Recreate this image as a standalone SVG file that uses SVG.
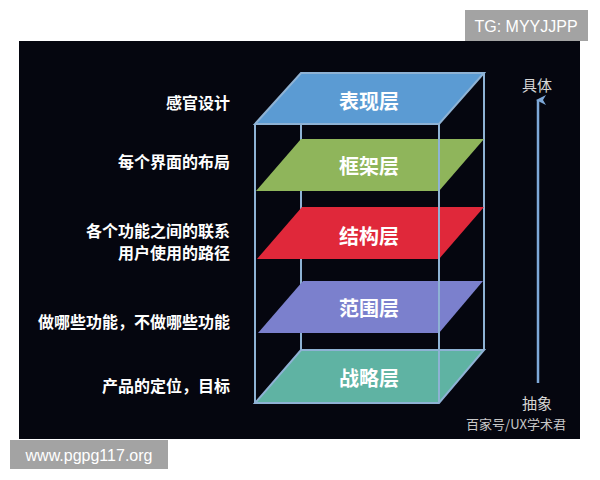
<svg xmlns="http://www.w3.org/2000/svg" width="600" height="480" viewBox="0 0 600 480">
  <defs>
    <style>
      .frame { stroke: #8eb2d4; stroke-width: 2; fill: none; }
      .layer-label { font-family: "Noto Sans CJK SC", "Noto Sans", sans-serif; font-size: 20px; font-weight: 700; fill: #ffffff; text-anchor: middle; dominant-baseline: central; }
      .side-label { font-family: "Noto Sans CJK SC", "Noto Sans", sans-serif; font-size: 16px; font-weight: 700; fill: #ffffff; text-anchor: end; dominant-baseline: central; }
      .axis-label { font-family: "Noto Sans CJK SC", "Noto Sans", sans-serif; font-size: 15px; fill: #d6d6d6; text-anchor: middle; dominant-baseline: central; }
      .credit { font-family: "Noto Sans CJK SC", "Noto Sans", sans-serif; font-size: 13px; fill: #c8c8c8; text-anchor: middle; dominant-baseline: central; }
      .wm-box { fill: #a3a3a3; }
      .wm-text { font-family: "Liberation Sans", Arial, sans-serif; font-size: 16px; fill: #ffffff; text-anchor: middle; dominant-baseline: central; }
    </style>
    <marker id="arrowhead" viewBox="0 0 10 10" refX="5" refY="2" markerWidth="10" markerHeight="10" markerUnits="userSpaceOnUse" orient="auto-start-reverse">
      <path d="M0,10 L5,0 L10,10 L5,7 Z" fill="#7ea8d8"/>
    </marker>
  </defs>

  <rect x="0" y="0" width="600" height="480" fill="#ffffff"/>
  <rect x="19" y="41" width="561" height="398" fill="#05060f"/>

  <!-- back frame lines (behind layers) -->
  <g id="frame-back">
    <line class="frame" x1="301" y1="73" x2="301" y2="350"/>
    <line class="frame" x1="484" y1="73" x2="484" y2="350"/>
  </g>

  <g id="layer-surface">
    <polygon points="301,73 484,73 439,124 255,124" fill="#5b9bd3" stroke="#8eb2d4" stroke-width="2"/>
    <text class="layer-label" x="369" y="100">表现层</text>
  </g>
  <g id="layer-skeleton">
    <polygon points="301,139 484,139 439,191 256,191" fill="#8fb55b"/>
    <text class="layer-label" x="369" y="165">框架层</text>
  </g>
  <g id="layer-structure">
    <polygon points="302,207 484,207 439,259 257,259" fill="#e0283a"/>
    <text class="layer-label" x="369" y="235">结构层</text>
  </g>
  <g id="layer-scope">
    <polygon points="303,281 483,281 439,333 258,333" fill="#7b80cd"/>
    <text class="layer-label" x="369" y="307">范围层</text>
  </g>
  <g id="layer-strategy">
    <polygon points="301,350 484,350 439,403 255,403" fill="#5fb3a3" stroke="#8eb2d4" stroke-width="2"/>
    <text class="layer-label" x="369" y="377">战略层</text>
  </g>

  <!-- front frame lines (over layers) -->
  <g id="frame-front">
    <line class="frame" x1="255" y1="124" x2="255" y2="403"/>
    <line class="frame" x1="439" y1="124" x2="439" y2="403"/>
  </g>

  <g id="label-surface"><text class="side-label" x="230" y="102">感官设计</text></g>
  <g id="label-skeleton"><text class="side-label" x="230" y="161">每个界面的布局</text></g>
  <g id="label-structure">
    <text class="side-label" x="230" y="230">各个功能之间的联系</text>
    <text class="side-label" x="230" y="252">用户使用的路径</text>
  </g>
  <g id="label-scope"><text class="side-label" x="230" y="321">做哪些功能，不做哪些功能</text></g>
  <g id="label-strategy"><text class="side-label" x="230" y="385">产品的定位，目标</text></g>

  <g id="connectors">
    <line x1="538" y1="383" x2="538" y2="100" stroke="#7ea8d8" stroke-width="2.5" marker-end="url(#arrowhead)"/>
  </g>
  <g id="axis-top"><text class="axis-label" x="537" y="84">具体</text></g>
  <g id="axis-bottom"><text class="axis-label" x="537" y="402">抽象</text></g>
  <text class="credit" x="516" y="423">百家号/UX学术君</text>

  <rect class="wm-box" x="465" y="10" width="123" height="31"/>
  <text class="wm-text" x="526" y="26">TG: MYYJJPP</text>
  <rect class="wm-box" x="10" y="440" width="158" height="29"/>
  <text class="wm-text" x="89" y="455" font-size="17">www.pgpg117.org</text>
</svg>
